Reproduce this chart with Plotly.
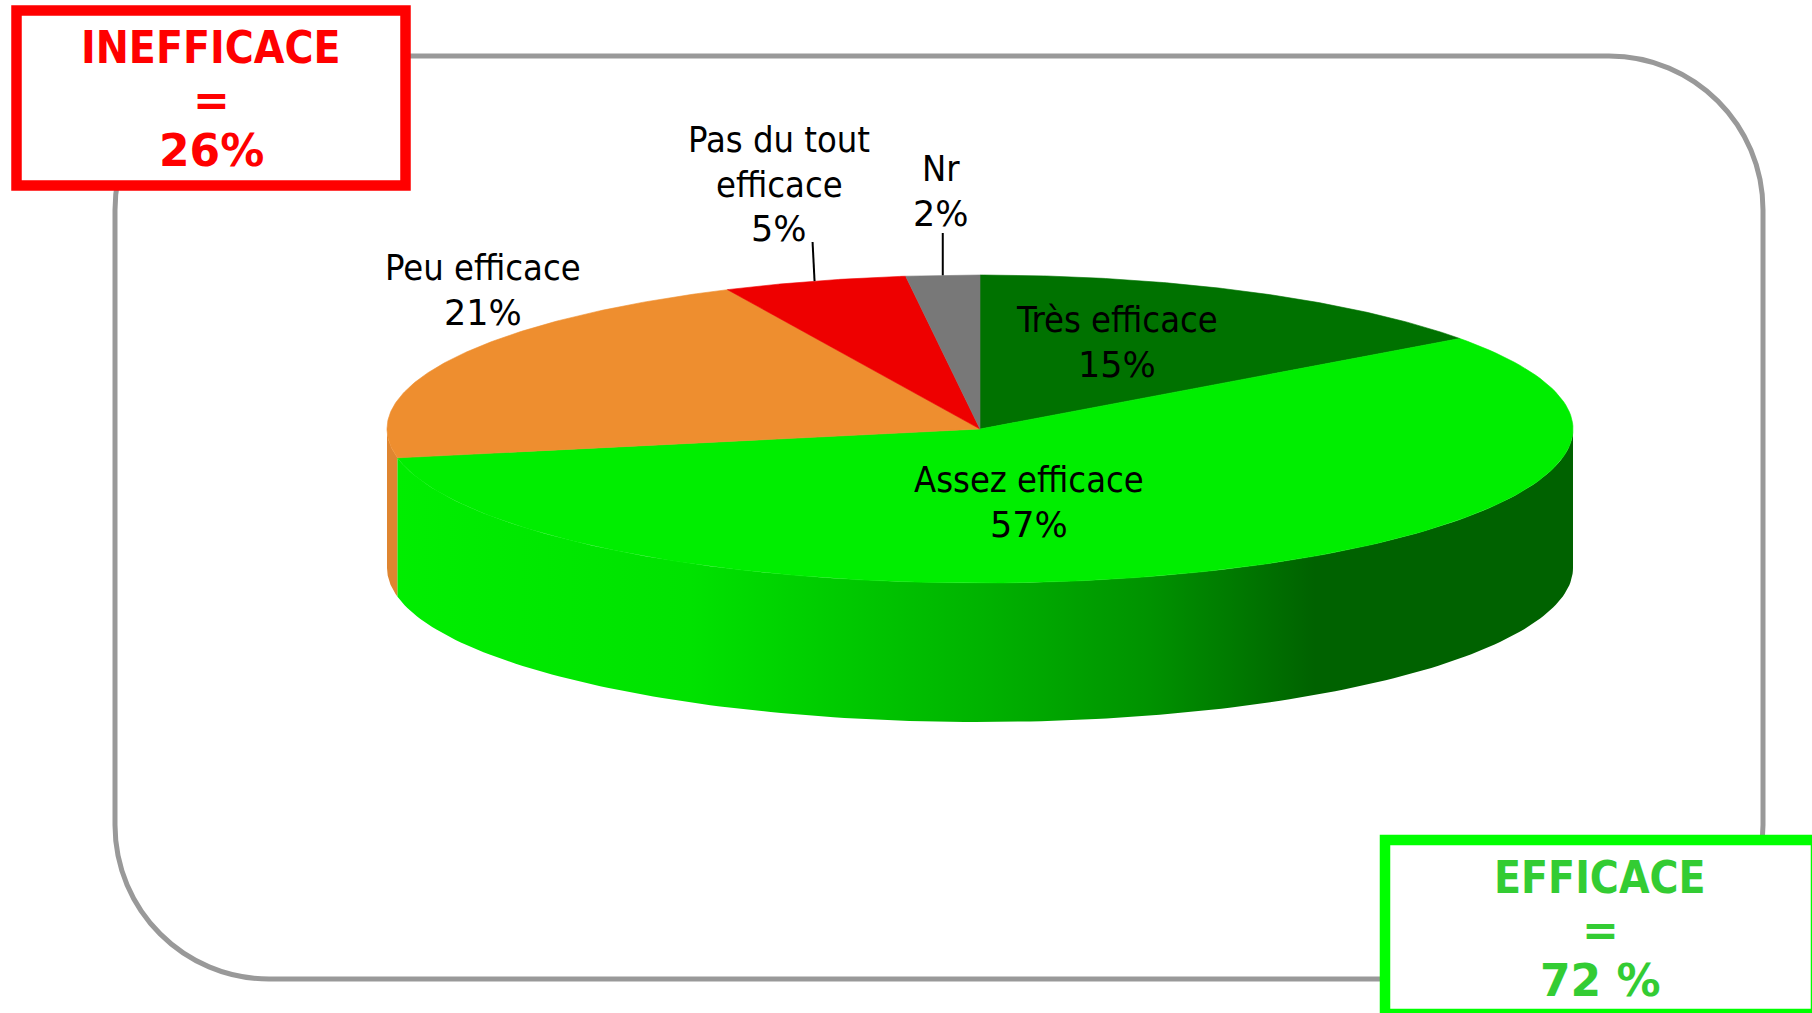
import numpy as np
import plotly.graph_objects as go

# ---- data ----
categories = ["Très efficace", "Assez efficace", "Peu efficace", "Pas du tout<br>efficace", "Nr"]
values = [15, 57, 21, 5, 2]
top_colors = ["#007200", "#00EE00", "#EE8E2F", "#EE0000", "#787878"]
orange_wall = "#DF8530"
wall_scale = [[0, "#00EE00"], [0.25, "#00E200"], [0.5, "#00B200"], [0.64, "#009200"], [0.78, "#006200"], [1, "#006200"]]
label_pos = [(1117, 342), (1029, 502), (483, 290), (779, 184), (941, 191)]
box_red = ["INEFFICACE", "=", "26%"]
box_red_y = [47, 99, 150]
box_green = ["EFFICACE", "=", "72 %"]
box_green_y = [877, 929, 980]

# ---- geometry of the projected pie ----
CX, CY, RX, RY, DEPTH = 980, 429, 593, 154, 139
COND = "DejaVu Sans Condensed, DejaVu Sans, sans-serif"
WIDE = "DejaVu Sans, sans-serif"


def rim(a0, a1, n=160, dy=0.0):
    a = np.radians(np.linspace(a0, a1, n))
    return CX + RX * np.sin(a), CY - RY * np.cos(a) + dy


edges = np.concatenate([[0], np.cumsum(values)]) * 3.6
fig = go.Figure()


def wall(a0, a1, **kw):
    x, y = rim(a0, a1)
    xb, yb = rim(a1, a0, dy=DEPTH)
    fig.add_trace(go.Scatter(x=np.r_[x, xb, x[0]], y=np.r_[y, yb, y[0]], mode="lines", fill="toself",
                             line=dict(width=0), hoverinfo="skip", showlegend=False, **kw))


# side walls: only the part of the rim facing the viewer
wall(edges[2], 270, fillcolor=orange_wall)
wall(90, edges[2], fillgradient=dict(type="horizontal", colorscale=wall_scale))
for i, c in enumerate(top_colors):
    x, y = rim(edges[i], edges[i + 1])
    fig.add_trace(go.Scatter(x=np.r_[CX, x, CX], y=np.r_[CY, y, CY], mode="lines", fill="toself",
                             fillcolor=c, line=dict(width=0.6, color=c), hoverinfo="skip", showlegend=False))

# leader lines for the two small slices
for i, top in ((3, 242), (4, 233)):
    mid = (edges[i] + edges[i + 1]) / 2
    mx, my = rim(mid, mid, n=1)
    fig.add_trace(go.Scatter(x=[mx[0] - 2 if i == 3 else mx[0], mx[0]], y=[top, my[0]], mode="lines",
                             line=dict(color="#000000", width=2), hoverinfo="skip", showlegend=False))

K = 85  # control offset for a circular corner of radius 154
L, R, T, B, C = 115, 1763, 56, 979, 154
frame = (f"M {L+C} {T} L {R-C} {T} C {R-C+K} {T} {R} {T+C-K} {R} {T+C} L {R} {B-C} "
         f"C {R} {B-C+K} {R-C+K} {B} {R-C} {B} L {L+C} {B} C {L+C-K} {B} {L} {B-C+K} {L} {B-C} "
         f"L {L} {T+C} C {L} {T+C-K} {L+C-K} {T} {L+C} {T} Z")
shapes = [
    dict(type="path", layer="below", path=frame, line=dict(color="#999999", width=5), fillcolor="rgba(0,0,0,0)"),
    dict(type="rect", x0=16.5, x1=405.5, y0=10.5, y1=185.5, line=dict(color="#FF0000", width=10.5), fillcolor="#FFFFFF"),
    dict(type="rect", x0=1385, x1=1816, y0=840, y1=1014, line=dict(color="#00FF00", width=10.5), fillcolor="#FFFFFF"),
]

anns = []
for c, v, p in zip(categories, values, label_pos):
    lines = c.split("<br>") + ["%d%%" % v]
    for j, t in enumerate(lines):
        is_pct = j == len(lines) - 1
        anns.append(dict(x=p[0], y=p[1] + 45 * (j - (len(lines) - 1) / 2), text=t, showarrow=False,
                         font=dict(family=WIDE if is_pct else COND, size=35 if is_pct else 36, color="#000000")))
for txts, ys, cx, col in ((box_red, box_red_y, 211, "#FF0000"), (box_green, box_green_y, 1600, "#33CC33")):
    for j, (t, y) in enumerate(zip(txts, ys)):
        anns.append(dict(x=cx, y=y, text="<b>" + t + "</b>", showarrow=False,
                         font=dict(family=COND if j == 0 else WIDE, size=44, color=col)))

fig.update_layout(width=1812, height=1013, autosize=False, margin=dict(l=0, r=0, t=0, b=0),
                  paper_bgcolor="#FFFFFF", plot_bgcolor="#FFFFFF", shapes=shapes, annotations=anns,
                  xaxis=dict(range=[0, 1812], visible=False, fixedrange=True),
                  yaxis=dict(range=[1013, 0], visible=False, fixedrange=True))
fig.write_html("out.html", config={"displayModeBar": False},
               post_script="document.body.style.margin='0';document.body.style.overflow='hidden';")
